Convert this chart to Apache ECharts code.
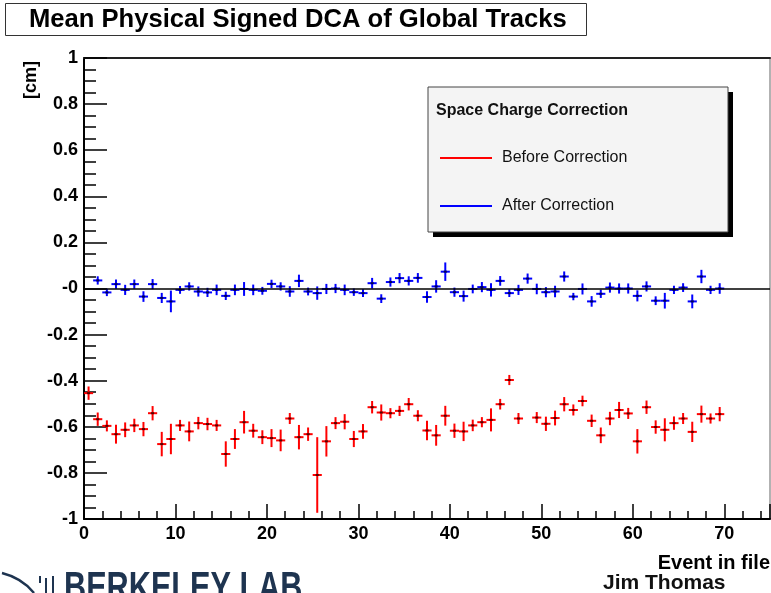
<!DOCTYPE html>
<html>
<head>
<meta charset="utf-8">
<script src="https://cdn.jsdelivr.net/npm/echarts@6/dist/echarts.min.js"></script>
<style>
  html, body { margin: 0; padding: 0; background: #fff; }
  #chart { width: 771px; height: 593px; }
</style>
</head>
<body>
<div id="chart"></div>
<script>
// Bin centres (event number in file)
const eventBins = [
  0.5, 1.5, 2.5, 3.5, 4.5, 5.5, 6.5, 7.5, 8.5, 9.5,
  10.5, 11.5, 12.5, 13.5, 14.5, 15.5, 16.5, 17.5, 18.5, 19.5,
  20.5, 21.5, 22.5, 23.5, 24.5, 25.5, 26.5, 27.5, 28.5, 29.5,
  30.5, 31.5, 32.5, 33.5, 34.5, 35.5, 36.5, 37.5, 38.5, 39.5,
  40.5, 41.5, 42.5, 43.5, 44.5, 45.5, 46.5, 47.5, 48.5, 49.5,
  50.5, 51.5, 52.5, 53.5, 54.5, 55.5, 56.5, 57.5, 58.5, 59.5,
  60.5, 61.5, 62.5, 63.5, 64.5, 65.5, 66.5, 67.5, 68.5, 69.5
];

// Mean signed DCA [cm] before space charge correction, and its error
const beforeMean = [
  -0.454, -0.567, -0.596, -0.632, -0.613, -0.594, -0.610, -0.541, -0.675, -0.653,
  -0.594, -0.620, -0.584, -0.588, -0.594, -0.718, -0.653, -0.580, -0.617, -0.645,
  -0.649, -0.659, -0.564, -0.645, -0.632, -0.809, -0.663, -0.584, -0.578, -0.653,
  -0.620, -0.515, -0.538, -0.541, -0.531, -0.502, -0.552, -0.616, -0.637, -0.552,
  -0.617, -0.620, -0.594, -0.580, -0.570, -0.502, -0.397, -0.564, null, -0.560,
  -0.587, -0.562, -0.502, -0.527, -0.488, -0.574, -0.637, -0.564, -0.527, -0.542,
  -0.663, -0.515, -0.601, -0.613, -0.584, -0.564, -0.622, -0.545, -0.564, -0.545
];
const beforeErr = [
  0.029, 0.029, 0.024, 0.041, 0.032, 0.029, 0.031, 0.031, 0.053, 0.066,
  0.024, 0.043, 0.027, 0.027, 0.024, 0.055, 0.043, 0.049, 0.030, 0.030,
  0.039, 0.047, 0.024, 0.053, 0.029, 0.164, 0.066, 0.026, 0.033, 0.035,
  0.032, 0.027, 0.035, 0.022, 0.022, 0.027, 0.024, 0.042, 0.045, 0.043,
  0.031, 0.042, 0.025, 0.022, 0.050, 0.023, 0.022, 0.024, null, 0.024,
  0.031, 0.032, 0.031, 0.024, 0.023, 0.027, 0.034, 0.029, 0.035, 0.024,
  0.053, 0.029, 0.029, 0.050, 0.029, 0.024, 0.044, 0.037, 0.022, 0.031
];

// Mean signed DCA [cm] after space charge correction, and its error
const afterMean = [
  null, 0.035, -0.017, 0.019, -0.006, 0.019, -0.035, 0.019, -0.041, -0.056,
  -0.006, 0.009, -0.013, -0.017, -0.006, -0.032, -0.006, -0.002, -0.006, -0.010,
  0.020, 0.009, -0.013, 0.033, -0.013, -0.020, -0.002, 0.000, -0.006, -0.016,
  -0.020, 0.023, -0.044, 0.028, 0.045, 0.033, 0.046, -0.037, 0.009, 0.073,
  -0.016, -0.033, -0.002, 0.006, -0.006, 0.033, -0.020, -0.006, 0.043, -0.002,
  -0.016, -0.013, 0.052, -0.035, -0.002, -0.056, -0.023, 0.004, 0.000, 0.000,
  -0.032, 0.009, -0.053, -0.053, -0.006, 0.004, -0.056, 0.052, -0.006, 0.000
];
const afterErr = [
  null, 0.018, 0.016, 0.020, 0.022, 0.020, 0.023, 0.022, 0.022, 0.047,
  0.017, 0.018, 0.022, 0.020, 0.023, 0.018, 0.023, 0.030, 0.023, 0.017,
  0.018, 0.018, 0.023, 0.027, 0.017, 0.029, 0.022, 0.020, 0.023, 0.016,
  0.017, 0.023, 0.019, 0.020, 0.022, 0.020, 0.021, 0.025, 0.027, 0.040,
  0.020, 0.024, 0.019, 0.022, 0.029, 0.021, 0.017, 0.022, 0.022, 0.023,
  0.022, 0.025, 0.022, 0.016, 0.024, 0.023, 0.018, 0.022, 0.022, 0.022,
  0.024, 0.022, 0.019, 0.034, 0.018, 0.019, 0.030, 0.029, 0.018, 0.023
];

// Axis tick labels (ROOT prints the zero as "-0")
const yTickLabels = {
  '-1': '-1', '-0.8': '-0.8', '-0.6': '-0.6', '-0.4': '-0.4', '-0.2': '-0.2',
  '0': '-0', '0.2': '0.2', '0.4': '0.4', '0.6': '0.6', '0.8': '0.8', '1': '1'
};
const xTickLabels = ['0', '10', '20', '30', '40', '50', '60', '70'];

const seriesNames = ['Before Correction', 'After Correction'];
const seriesColors = ['#ff0000', '#0000ff'];
const binHalfWidth = 0.5;

function buildPoints(means, errs) {
  const out = [];
  for (let i = 0; i < eventBins.length; i++) {
    if (means[i] === null) continue;
    out.push([eventBins[i], means[i], errs[i]]);
  }
  return out;
}

function errorCross(color, centre) {
  return function (params, api) {
    const x = api.value(0), y = api.value(1), e = api.value(2);
    const l = api.coord([x - binHalfWidth, y]);
    const r = api.coord([x + binHalfWidth, y]);
    const t = api.coord([x, y + e]);
    const b = api.coord([x, y - e]);
    const c = api.coord([x, y]);
    const st = { stroke: color, lineWidth: 2 };
    return {
      type: 'group',
      children: [
        { type: 'line', shape: { x1: l[0], y1: l[1], x2: r[0], y2: r[1] }, style: st },
        { type: 'line', shape: { x1: t[0], y1: t[1], x2: b[0], y2: b[1] }, style: st },
        { type: 'rect', shape: { x: c[0] - 1.5, y: c[1] - 1, width: 3, height: 2 }, style: { fill: centre } }
      ]
    };
  };
}

const chart = echarts.init(document.getElementById('chart'), null, { renderer: 'canvas' });
const sansFont = 'Liberation Sans, Arial, sans-serif';
const labFont = '#1e3450';

chart.setOption({
  backgroundColor: '#ffffff',
  animation: false,
  title: {
    text: 'Mean Physical Signed DCA of Global Tracks',
    left: 5, top: 3,
    padding: [4, 20, 3, 24],
    borderColor: '#333', borderWidth: 1,
    textStyle: { fontFamily: sansFont, fontWeight: 'bold', fontSize: 25.6, color: '#000' }
  },
  legend: {
    orient: 'vertical',
    left: 440, top: 149,
    padding: 0,
    itemWidth: 52, itemHeight: 2, itemGap: 30,
    icon: 'rect',
    data: seriesNames,
    selectedMode: false,
    textStyle: { fontFamily: sansFont, fontSize: 16, color: '#111', lineHeight: 18, padding: [0, 0, 0, 5] }
  },
  grid: { left: 84, top: 58, width: 686, height: 461, containLabel: false },
  xAxis: [{
    type: 'value', min: 0, max: 75, interval: 10,
    axisLine: { onZero: false, lineStyle: { color: '#000', width: 2 } },
    axisTick: { inside: true, length: 15, lineStyle: { color: '#000', width: 1.5 } },
    minorTick: { show: true, splitNumber: 5, length: 8, lineStyle: { color: '#000', width: 1.5 } },
    splitLine: { show: false },
    axisLabel: {
      showMaxLabel: false, margin: 6,
      fontFamily: sansFont, fontWeight: 'bold', fontSize: 18, color: '#000',
      formatter: function (v) { return xTickLabels[Math.round(v / 10)] || ''; }
    }
  }, {
    type: 'value', position: 'top', min: 0, max: 75,
    axisLine: { show: true, onZero: false, lineStyle: { color: '#222', width: 2 } },
    axisTick: { show: false }, axisLabel: { show: false }, splitLine: { show: false }
  }],
  yAxis: [{
    type: 'value', min: -1, max: 1, interval: 0.2,
    axisLine: { onZero: false, lineStyle: { color: '#000', width: 2 } },
    axisTick: { inside: true, length: 23, lineStyle: { color: '#000', width: 1.5 } },
    minorTick: { show: true, splitNumber: 4, length: 12, lineStyle: { color: '#000', width: 1.5 } },
    splitLine: { show: false },
    axisLabel: {
      margin: 6,
      fontFamily: sansFont, fontWeight: 'bold', fontSize: 18, color: '#000',
      formatter: function (v) { return yTickLabels[String(Math.round(v * 10) / 10)]; }
    }
  }, {
    type: 'value', position: 'right', min: -1, max: 1,
    axisLine: { show: true, onZero: false, lineStyle: { color: '#999', width: 1.5 } },
    axisTick: { show: false }, axisLabel: { show: false }, splitLine: { show: false }
  }],
  graphic: [
    // legend frame with drop shadow
    { type: 'rect', z: 1, shape: { x: 433, y: 92, width: 300, height: 145 }, style: { fill: '#000' } },
    { type: 'rect', z: 2, shape: { x: 428, y: 87, width: 300, height: 145 }, style: { fill: '#f4f4f4', stroke: '#444', lineWidth: 1 } },
    { type: 'text', z: 3, left: 436, top: 103,
      style: { text: 'Space Charge Correction', font: 'bold 16px ' + sansFont, fill: '#111' } },
    // axis titles and credit
    { type: 'text', z: 3, right: 1, top: 553,
      style: { text: 'Event in file', font: 'bold 20px ' + sansFont, fill: '#000' } },
    { type: 'text', z: 3, x: 31, y: 61, rotation: Math.PI / 2,
      style: { text: '[cm]', font: 'bold 18px ' + sansFont, fill: '#000', textAlign: 'right', textVerticalAlign: 'middle' } },
    { type: 'text', z: 3, left: 603, top: 573,
      style: { text: 'Jim Thomas', font: 'bold 21px ' + sansFont, fill: '#111' } },
    // laboratory banner along the bottom edge
    { type: 'text', z: 3, x: 64, y: 568, scaleX: 0.73,
      style: { text: 'BERKELEY LAB', font: 'bold 42px ' + sansFont, fill: labFont, textVerticalAlign: 'top' } },
    { type: 'bezierCurve', z: 3, shape: { x1: 2, y1: 573, x2: 34, y2: 593, cpx1: 22, cpy1: 578 },
      style: { stroke: labFont, lineWidth: 2.5, fill: 'none' } },
    { type: 'line', z: 3, shape: { x1: 40, y1: 576, x2: 40, y2: 583 }, style: { stroke: labFont, lineWidth: 2 } },
    { type: 'line', z: 3, shape: { x1: 46, y1: 578, x2: 46, y2: 593 }, style: { stroke: labFont, lineWidth: 2 } },
    { type: 'line', z: 3, shape: { x1: 53, y1: 576, x2: 53, y2: 593 }, style: { stroke: labFont, lineWidth: 2 } }
  ],
  series: [{
    name: seriesNames[0],
    type: 'custom',
    color: seriesColors[0],
    renderItem: errorCross(seriesColors[0], '#550000'),
    encode: { x: 0, y: 1 },
    data: buildPoints(beforeMean, beforeErr),
    z: 4,
    markLine: {
      silent: true, symbol: 'none', label: { show: false },
      lineStyle: { color: '#000', width: 1.5, type: 'solid' },
      data: [{ yAxis: 0 }]
    }
  }, {
    name: seriesNames[1],
    type: 'custom',
    color: seriesColors[1],
    renderItem: errorCross(seriesColors[1], '#000055'),
    encode: { x: 0, y: 1 },
    data: buildPoints(afterMean, afterErr),
    z: 4
  }]
});
</script>
</body>
</html>
